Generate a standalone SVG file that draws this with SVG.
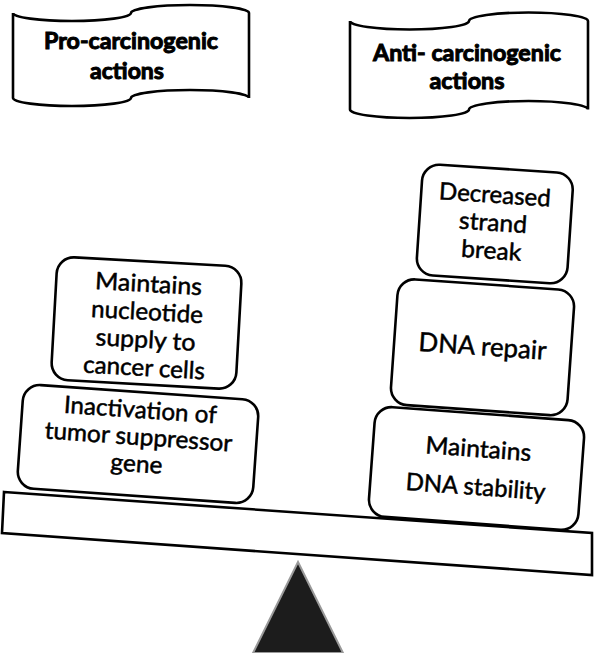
<svg xmlns="http://www.w3.org/2000/svg" width="594" height="653" viewBox="0 0 594 653">
<style>
.box{fill:#fff;stroke:#000;stroke-width:2.6}
.t{font-family:Lato,"Liberation Sans",sans-serif;font-size:24px;fill:#000;text-anchor:middle;stroke:#000;stroke-width:0.5}
.h{font-family:Lato,"Liberation Sans",sans-serif;font-size:23px;font-weight:bold;fill:#000;text-anchor:middle;stroke:#000;stroke-width:1}
</style>
<rect width="594" height="653" fill="#fff"/>
<g id="scale">
<polygon points="298,562 343,653 253,653" fill="#1c1c1c" stroke="#9a9a9a" stroke-width="2"/>
<polygon points="4,492 592,533 592,575 2,533" class="box"/>
</g>
<g id="banner-pro">
<path class="box" d="M13,13 A59,8 0 0 0 131,13 A59,8 0 0 1 249,13 L249,98 A59,8 0 0 0 131,98 A59,8 0 0 1 13,98 Z"/>
<text class="h" x="131" y="49" textLength="174" lengthAdjust="spacingAndGlyphs">Pro-carcinogenic</text>
<text class="h" x="127" y="79" textLength="74" lengthAdjust="spacingAndGlyphs">actions</text>
</g>
<g id="banner-anti">
<path class="box" d="M350,21 A59.5,8.5 0 0 0 469,21 A59.5,8.5 0 0 1 588,21 L588,109.5 A59.5,8.5 0 0 0 469,109.5 A59.5,8.5 0 0 1 350,109.5 Z"/>
<text class="h" x="467" y="60.5" textLength="188" lengthAdjust="spacingAndGlyphs">Anti- carcinogenic</text>
<text class="h" x="467" y="89" textLength="75" lengthAdjust="spacingAndGlyphs">actions</text>
</g>
<g id="node-nucleotide" transform="rotate(3.2 146.5 323)">
<rect class="box" x="54" y="261.5" width="185" height="123" rx="17"/>
<text class="t" x="146.5" y="292" textLength="107" lengthAdjust="spacingAndGlyphs">Maintains</text>
<text class="t" x="146.5" y="320" textLength="112" lengthAdjust="spacingAndGlyphs">nucleotide</text>
<text class="t" x="146.5" y="348" textLength="100" lengthAdjust="spacingAndGlyphs">supply to</text>
<text class="t" x="146.5" y="376" textLength="122" lengthAdjust="spacingAndGlyphs">cancer cells</text>
</g>
<g id="node-tumor" transform="rotate(4 138 444)">
<rect class="box" x="20" y="392" width="236" height="104" rx="17"/>
<text class="t" x="138" y="418" textLength="153" lengthAdjust="spacingAndGlyphs">Inactivation of</text>
<text class="t" x="138" y="445" textLength="188" lengthAdjust="spacingAndGlyphs">tumor suppressor</text>
<text class="t" x="138" y="472" textLength="52" lengthAdjust="spacingAndGlyphs">gene</text>
</g>
<g id="node-strand" transform="rotate(3.8 494.8 224)">
<rect class="box" x="419.3" y="168.5" width="151" height="111" rx="17"/>
<text class="t" x="493" y="203" textLength="112" lengthAdjust="spacingAndGlyphs">Decreased</text>
<text class="t" x="493" y="231" textLength="68" lengthAdjust="spacingAndGlyphs">strand</text>
<text class="t" x="493" y="259" textLength="60" lengthAdjust="spacingAndGlyphs">break</text>
</g>
<g id="node-repair" transform="rotate(4 482.5 347.3)">
<rect class="box" x="394" y="284.3" width="177" height="126" rx="17"/>
<text class="t" x="482.5" y="355.3" style="font-size:26px" textLength="128" lengthAdjust="spacingAndGlyphs">DNA repair</text>
</g>
<g id="node-stability" transform="rotate(4.2 476.5 468.5)">
<rect class="box" x="371.5" y="413.5" width="210" height="110" rx="17"/>
<text class="t" x="477" y="457" textLength="106" lengthAdjust="spacingAndGlyphs">Maintains</text>
<text class="t" x="477" y="495" textLength="140" lengthAdjust="spacingAndGlyphs">DNA stability</text>
</g>
<g id="connectors"/>
</svg>
